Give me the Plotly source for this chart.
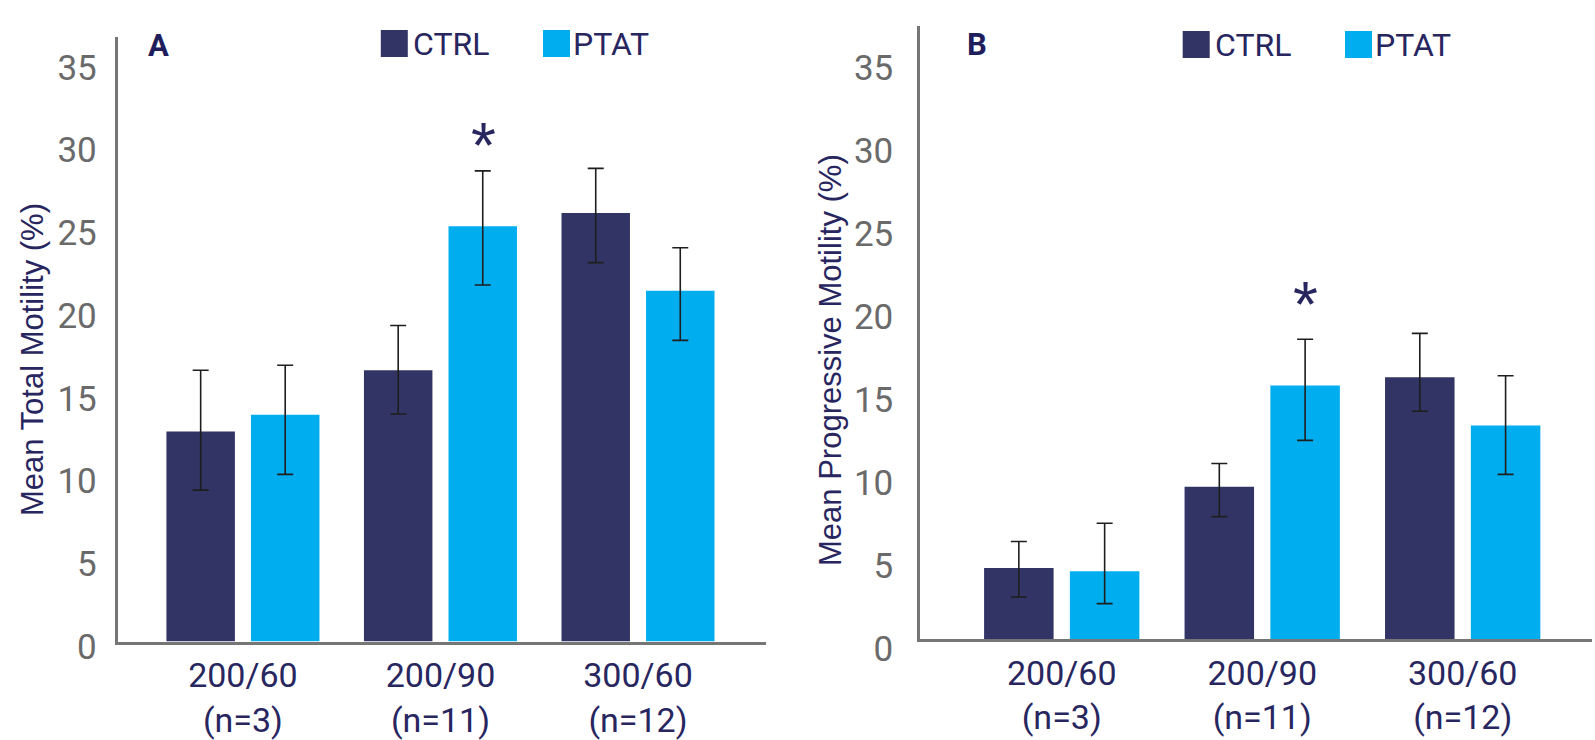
import plotly.graph_objects as go

# ---- data ----------------------------------------------------------------
categories = ["200/60<br>(n=3)", "200/90<br>(n=11)", "300/60<br>(n=12)"]
series_names = ["CTRL", "PTAT"]
y_ticks = [0, 5, 10, 15, 20, 25, 30, 35]

# Panel A: mean total motility (%)
total_ctrl = [12.7, 16.4, 25.9]
total_ptat = [13.7, 25.1, 21.2]
total_ctrl_err_up = [3.7, 2.7, 2.7]
total_ctrl_err_down = [3.55, 2.65, 3.0]
total_ptat_err_up = [3.0, 3.35, 2.6]
total_ptat_err_down = [3.6, 3.55, 3.0]

# Panel B: mean progressive motility (%)
prog_ctrl = [4.3, 9.2, 15.8]
prog_ptat = [4.1, 15.3, 12.9]
prog_ctrl_err_up = [1.6, 1.4, 2.65]
prog_ctrl_err_down = [1.75, 1.8, 2.05]
prog_ptat_err_up = [2.9, 2.8, 3.0]
prog_ptat_err_down = [1.95, 3.3, 2.95]

# significance marker (category, height of the asterisk)
star_category = categories[1]
star_total = 30.9
star_prog = 21.1

# ---- styling -------------------------------------------------------------
W, H = 1595, 740
NAVY = "#323465"
CYAN = "#00AEEF"
TEXT_NAVY = "#28265f"
AXIS_GREY = "#767676"
TICK_GREY = "#6a6a6a"
ERR_COLOR = "#1e1e1e"
COND = "Roboto, 'DejaVu Sans', sans-serif"
SANS = "'Liberation Sans', Arial, sans-serif"


def px(x):
    return x / W


def py(y):
    return 1 - y / H


def err(up, down):
    return dict(type="data", symmetric=False, array=up, arrayminus=down,
                color=ERR_COLOR, thickness=1.6, width=8)


fig = go.Figure()

panels = [
    ("x", "y", total_ctrl, total_ptat,
     (total_ctrl_err_up, total_ctrl_err_down),
     (total_ptat_err_up, total_ptat_err_down)),
    ("x2", "y2", prog_ctrl, prog_ptat,
     (prog_ctrl_err_up, prog_ctrl_err_down),
     (prog_ptat_err_up, prog_ptat_err_down)),
]

for xa, ya, ctrl, ptat, ctrl_err, ptat_err in panels:
    fig.add_trace(go.Bar(x=categories, y=ctrl, name=series_names[0],
                         marker=dict(color=NAVY, line=dict(width=0)),
                         error_y=err(*ctrl_err), xaxis=xa, yaxis=ya,
                         showlegend=False))
    fig.add_trace(go.Bar(x=categories, y=ptat, name=series_names[1],
                         marker=dict(color=CYAN, line=dict(width=0)),
                         error_y=err(*ptat_err), xaxis=xa, yaxis=ya,
                         showlegend=False))

x_common = dict(showline=True, linecolor=AXIS_GREY, linewidth=3, ticks="",
                showgrid=False, zeroline=False, fixedrange=True,
                automargin=False,
                tickfont=dict(family=COND, size=34, color=TEXT_NAVY),
                ticklabelstandoff=2)
y_common = dict(showline=True, linecolor=AXIS_GREY, linewidth=2.5, ticks="",
                showgrid=False, zeroline=False, fixedrange=True,
                automargin=False, tickvals=y_ticks,
                tickfont=dict(family=COND, size=35, color=TICK_GREY))

fig.update_layout(
    width=W, height=H,
    margin=dict(l=0, r=0, t=0, b=0, autoexpand=False),
    paper_bgcolor="white", plot_bgcolor="white",
    barmode="group", bargap=0.144, bargroupgap=0.19,
    showlegend=False,
    xaxis=dict(domain=[px(117.5), px(766)], anchor="y",
               range=[-0.635, 2.648], **x_common),
    yaxis=dict(domain=[py(641.5), py(36.7)], anchor="x",
               range=[0, 36.56], ticklabelshift=5, ticklabelstandoff=11,
               **y_common),
    xaxis2=dict(domain=[px(920), px(1592)], anchor="y2",
                range=[-0.707, 2.645], **x_common),
    yaxis2=dict(domain=[py(639.3), py(26)], anchor="x2",
                range=[0, 36.99], ticklabelshift=9, ticklabelstandoff=17,
                **y_common),
)

annotations = []
shapes = []

# axis titles
for text, cx in [("Mean Total Motility (%)", 32),
                 ("Mean Progressive Motility (%)", 830)]:
    annotations.append(dict(text=text, xref="paper", yref="paper",
                            x=px(cx), y=py(360), xanchor="center",
                            yanchor="middle", textangle=-90, showarrow=False,
                            font=dict(family=SANS, size=31, color=TEXT_NAVY)))

# panel letters
for letter, lx, ly in [("A", 146, 45), ("B", 965, 44.5)]:
    annotations.append(dict(text="<b>%s</b>" % letter, xref="paper",
                            yref="paper", x=px(lx), y=py(ly), xanchor="left",
                            yanchor="middle", showarrow=False,
                            font=dict(family=COND, size=31, color="#201d5c")))

# legends drawn as swatches + labels
legend_rows = [
    [(380.8, 30, 27, 413), (543, 30, 27, 573)],
    [(1182.7, 31, 27, 1215), (1345, 31, 27, 1375)],
]
for row in legend_rows:
    for (sx, sy, size, tx), name, color in zip(row, series_names, [NAVY, CYAN]):
        shapes.append(dict(type="rect", xref="paper", yref="paper",
                           x0=px(sx), x1=px(sx + size), y0=py(sy + size),
                           y1=py(sy), fillcolor=color, line=dict(width=0)))
        annotations.append(dict(text=name, xref="paper", yref="paper",
                                x=px(tx - 2), y=py(sy + size / 2),
                                xanchor="left", yanchor="middle",
                                showarrow=False,
                                font=dict(family=COND, size=32,
                                          color=TEXT_NAVY)))

# significance asterisks over PTAT bars
for xa, ya, ystar in [("x", "y", star_total), ("x2", "y2", star_prog)]:
    annotations.append(dict(text="*", xref=xa, yref=ya, x=star_category,
                            y=ystar, xanchor="center", yanchor="middle",
                            xshift=43, yshift=-16, showarrow=False,
                            font=dict(family=SANS, size=64, color=TEXT_NAVY)))

fig.update_layout(annotations=annotations, shapes=shapes)

fig.write_html("out.html")
